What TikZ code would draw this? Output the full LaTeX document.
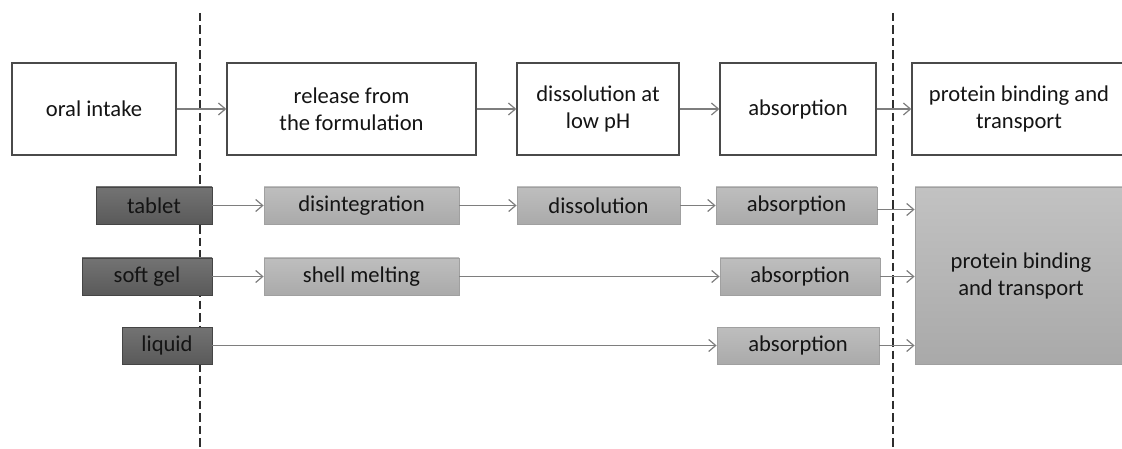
\documentclass[tikz,border=0pt]{standalone}
\usepackage{fontspec}
\setmainfont{Carlito}
\usetikzlibrary{arrows.meta}
\definecolor{txt}{HTML}{141414}
\definecolor{bordergray}{HTML}{4A4A4A}
\definecolor{darktop}{HTML}{737373}
\definecolor{darkbot}{HTML}{5A5A5A}
\definecolor{darkborder}{HTML}{454545}
\definecolor{midtop}{HTML}{BEBEBE}
\definecolor{midbot}{HTML}{AAAAAA}
\definecolor{midborder}{HTML}{A0A0A0}
\definecolor{bigtop}{HTML}{C2C2C2}
\definecolor{bigbot}{HTML}{A9A9A9}
\definecolor{arrowgray}{HTML}{7E7E7E}
\definecolor{dashgray}{HTML}{2E2E2E}
\begin{document}
\begin{tikzpicture}[x=1pt,y=-1pt,
  every node/.style={font=\fontsize{22.6}{27}\selectfont, text=txt, inner sep=0pt, align=center},
  topbox/.style={draw=bordergray, line width=1.4pt, fill=white, minimum height=92pt},
  darkbox/.style={draw=darkborder, line width=0.9pt, top color=darktop, bottom color=darkbot, minimum height=37pt},
  midbox/.style={draw=midborder, line width=0.8pt, top color=midtop, bottom color=midbot, minimum height=37pt},
  bigbox/.style={draw=midborder, line width=0.8pt, top color=bigtop, bottom color=bigbot},
  link/.style={draw=arrowgray, line width=1.3pt, -{Straight Barb[length=7pt,width=12pt,line width=1.2pt]}},
  divider/.style={draw=dashgray, line width=1.8pt, dash pattern=on 8.5pt off 4pt}]
\useasboundingbox (0,0) rectangle (1122,449);

% dashed dividers
\coordinate (d1t) at (200.2,13);
\coordinate (d1b) at (200.2,449);
\coordinate (d2t) at (893,13);
\coordinate (d2b) at (893,449);
\draw[divider] (d1t) -- (d1b);
\draw[divider] (d2t) -- (d2b);

% top row
\node[topbox, minimum width=164pt] (oral) at (94,109) {oral intake};
\node[topbox, minimum width=249pt] (rel) at (351.5,109) {release from\\the formulation};
\node[topbox, minimum width=162pt] (dis) at (598,109) {dissolution at\\low pH};
\node[topbox, minimum width=156pt] (abs) at (798,109) {absorption};
\node[topbox, minimum width=214pt] (prot) at (1019,109) {protein binding and\\transport};

\draw[link] (oral) -- (rel);
\draw[link] (rel) -- (dis);
\draw[link] (dis) -- (abs);
\draw[link] (abs) -- (prot);

% row 1: tablet
\node[darkbox, minimum width=116pt] (tab) at (154,205.5) {tablet};
\node[midbox, minimum width=195pt] (disint) at (361.5,205.5) {disintegration};
\node[midbox, minimum width=163pt] (dissol) at (598.5,205.5) {dissolution};
\node[midbox, minimum width=161pt] (absA) at (796.5,205.5) {absorption};

% row 2: soft gel
\node[darkbox, minimum width=130pt] (gel) at (147,276.5) {soft gel};
\node[midbox, minimum width=195pt] (shell) at (361.5,276.5) {shell melting};
\node[midbox, minimum width=160pt] (absB) at (800,276.5) {absorption};

% row 3: liquid
\node[darkbox, minimum width=90pt] (liq) at (167,345.5) {liquid};
\node[midbox, minimum width=162pt] (absC) at (798,345.5) {absorption};

% big box
\node[bigbox, minimum width=212pt, minimum height=177pt] (big) at (1021,275.5) {protein binding\\and transport};

\draw[link] (tab) -- (disint);
\draw[link] (disint) -- (dissol);
\draw[link] (dissol) -- (absA);
\draw[link] (gel) -- (shell);
\draw[link] (shell) -- (absB);
\draw[link] (liq) -- (absC);
\draw[link] ([yshift=-4pt]absA.east) -- ([yshift=-4pt]absA.east -| big.west);
\draw[link] (absB.east) -- (absB.east -| big.west);
\draw[link] (absC.east) -- (absC.east -| big.west);
\end{tikzpicture}
\end{document}
